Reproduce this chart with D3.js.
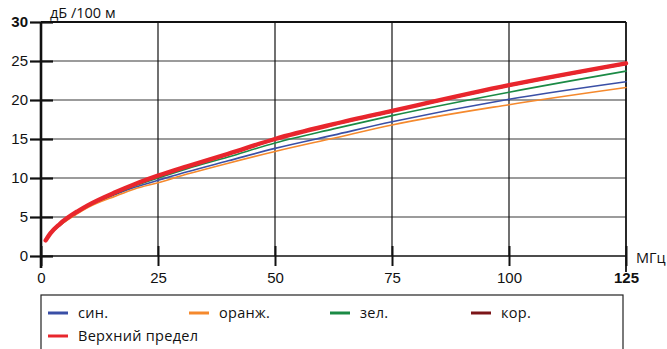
<!DOCTYPE html>
<html>
<head>
<meta charset="utf-8">
<script src="https://cdn.jsdelivr.net/npm/d3@7"></script>
<style>
  body { margin: 0; background: #fff; }
  svg { font-family: "Open Sans", "DejaVu Sans", sans-serif; }
  .axis text { font-size: 15px; fill: #111; }
  .axis path { display: none; }
</style>
</head>
<body>
<div id="chart"></div>
<script>
// frequencies, MHz
const freqs = [1, 2, 4, 8, 10, 16, 20, 25, 31.25, 40, 50, 62.5, 75, 100, 125];

// attenuation, dB/100 m
const blueVals   = [1.95, 2.8, 3.9, 5.6, 6.3, 7.9, 8.8, 9.7, 10.8, 12.2, 13.8, 15.5, 17.2, 20.1, 22.35];
const orangeVals = [1.9, 2.8, 3.9, 5.5, 6.2, 7.7, 8.6, 9.4, 10.5, 11.9, 13.4, 15.1, 16.8, 19.4, 21.6];
const greenVals  = [2.0, 2.9, 4.0, 5.7, 6.4, 8.0, 9.0, 10.0, 11.2, 12.7, 14.5, 16.3, 18.0, 21.0, 23.7];
const brownVals  = [2.0, 2.9, 4.0, 5.7, 6.4, 8.1, 9.1, 10.2, 11.4, 13.0, 14.9, 16.8, 18.5, 21.8, 24.6];
const limitVals  = [2.0, 2.9, 4.1, 5.8, 6.5, 8.2, 9.2, 10.3, 11.5, 13.1, 15.0, 16.9, 18.6, 21.9, 24.7];

const seriesNames = ["син.", "оранж.", "зел.", "кор.", "Верхний предел"];
const seriesColors = ["#3a4fa6", "#f5892d", "#1b8a45", "#7c1518", "#e8262d"];
const seriesWidths = [1.6, 1.6, 1.6, 1.6, 4.4];

const xTicks = [0, 25, 50, 75, 100, 125];
const yTicks = [0, 5, 10, 15, 20, 25, 30];

const allSeries = [blueVals, orangeVals, greenVals, brownVals, limitVals];

const margin = {top: 22, left: 41};
const width = 585, height = 234;

const svg = d3.select("#chart").append("svg")
    .attr("width", 667)
    .attr("height", 349);

const chart = svg.append("g")
    .attr("transform", `translate(${margin.left},${margin.top})`);

const x = d3.scaleLinear().domain([0, 125]).range([0, width]);
const y = d3.scaleLinear().domain([0, 30]).range([height, 0]);

// horizontal grid (grey)
chart.append("g")
    .selectAll("line")
    .data(yTicks.filter(d => d > 0 && d < 30))
  .join("line")
    .attr("x1", 0).attr("x2", width)
    .attr("y1", d => y(d)).attr("y2", d => y(d))
    .attr("stroke", "#7a7a7a")
    .attr("stroke-width", 1.6);

chart.append("line")
    .attr("x1", 0).attr("x2", width)
    .attr("y1", y(0)).attr("y2", y(0))
    .attr("stroke", "#111")
    .attr("stroke-width", 1.3);

// vertical grid (black)
chart.append("g")
    .selectAll("line")
    .data(xTicks.filter(d => d > 0 && d < 125))
  .join("line")
    .attr("x1", d => x(d)).attr("x2", d => x(d))
    .attr("y1", 0).attr("y2", height)
    .attr("stroke", "#111")
    .attr("stroke-width", 1.2);

// frame top & right
chart.append("line")
    .attr("x1", 0).attr("x2", width)
    .attr("y1", 0).attr("y2", 0)
    .attr("stroke", "#111").attr("stroke-width", 2.2);
chart.append("line")
    .attr("x1", width).attr("x2", width)
    .attr("y1", 0).attr("y2", height + 16)
    .attr("stroke", "#111").attr("stroke-width", 1.8);

// axes
const yAxis = d3.axisLeft(y).tickValues(yTicks).tickSize(0).tickPadding(13);
const yAxisG = chart.append("g").attr("class", "axis y-axis").call(yAxis);
yAxisG.selectAll(".tick line")
    .attr("x1", -11).attr("x2", 12)
    .attr("stroke", "#111").attr("stroke-width", 2.2);
yAxisG.selectAll(".tick text")
    .style("font-weight", d => d === 30 ? "bold" : "normal");

const xAxis = d3.axisBottom(x).tickValues(xTicks).tickSize(0).tickPadding(16);
const xAxisG = chart.append("g").attr("class", "axis x-axis")
    .attr("transform", `translate(0,${height})`)
    .call(xAxis);
xAxisG.selectAll(".tick line")
    .attr("y1", -10).attr("y2", 10)
    .attr("stroke", "#111").attr("stroke-width", 2);
xAxisG.selectAll(".tick text")
    .style("font-weight", d => d === 125 ? "bold" : "normal");

// left axis line
chart.append("line")
    .attr("x1", 0).attr("x2", 0)
    .attr("y1", 0).attr("y2", height + 12)
    .attr("stroke", "#111").attr("stroke-width", 2.6);

// axis titles
svg.append("text")
    .attr("x", 50).attr("y", 18)
    .style("font-size", "14.5px")
    .attr("fill", "#111")
    .text("дБ /100 м");

svg.append("text")
    .attr("x", 636).attr("y", 263)
    .style("font-size", "14.5px")
    .attr("fill", "#111")
    .text("МГц");

// curves
const line = d3.line()
    .x((d, i) => x(freqs[i]))
    .y(d => y(d))
    .curve(d3.curveMonotoneX);

chart.append("g")
    .selectAll("path")
    .data(allSeries)
  .join("path")
    .attr("d", d => line(d))
    .attr("fill", "none")
    .attr("stroke", (d, i) => seriesColors[i])
    .attr("stroke-width", (d, i) => seriesWidths[i])
    .attr("stroke-linecap", "round");

// legend
const legend = svg.append("g");
legend.append("rect")
    .attr("x", 41).attr("y", 295)
    .attr("width", 582).attr("height", 60)
    .attr("fill", "none")
    .attr("stroke", "#222")
    .attr("stroke-width", 1.2);

const legendItems = legend.selectAll(".legend-item")
    .data(seriesNames)
  .join("g")
    .attr("class", "legend-item")
    .attr("transform", (d, i) => `translate(${48 + (i % 4) * 141},${i < 4 ? 313 : 336})`);

legendItems.append("line")
    .attr("x1", 0).attr("x2", 20)
    .attr("stroke", (d, i) => seriesColors[i])
    .attr("stroke-width", 3);

legendItems.append("text")
    .attr("x", 30).attr("dy", "0.35em")
    .style("font-size", "14.5px")
    .style("letter-spacing", "0.3px")
    .attr("fill", "#111")
    .text(d => d);
</script>
</body>
</html>
